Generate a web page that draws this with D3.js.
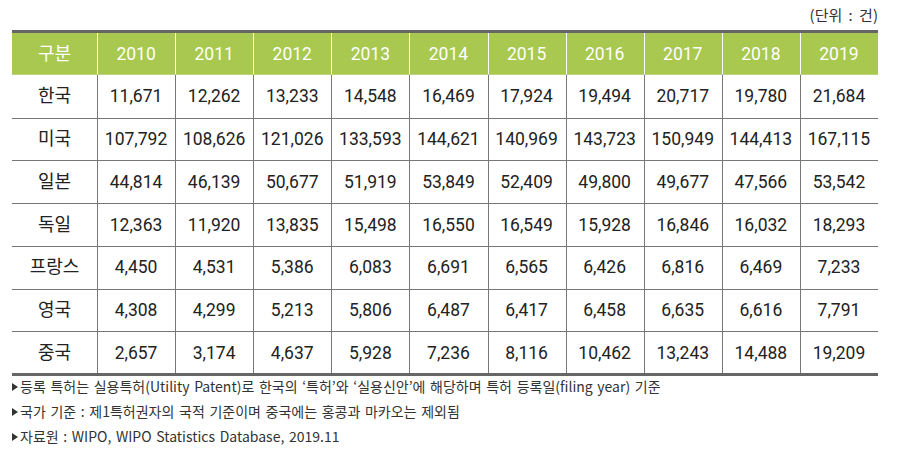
<!DOCTYPE html>
<html>
<head>
<meta charset="utf-8">
<script src="https://cdn.jsdelivr.net/npm/d3@7"></script>
<style>
  body { margin:0; background:#fff; }
  text { font-family: "Noto Sans CJK KR", "Noto Sans", sans-serif; }
  text.num { font-family: Roboto, "Liberation Sans", sans-serif; }
</style>
</head>
<body>
<div id="chart-area"></div>
<script>
// table data
var years = ["2010","2011","2012","2013","2014","2015","2016","2017","2018","2019"];
var countries = ["한국","미국","일본","독일","프랑스","영국","중국"];
var korea   = [11671,12262,13233,14548,16469,17924,19494,20717,19780,21684];
var usa     = [107792,108626,121026,133593,144621,140969,143723,150949,144413,167115];
var japan   = [44814,46139,50677,51919,53849,52409,49800,49677,47566,53542];
var germany = [12363,11920,13835,15498,16550,16549,15928,16846,16032,18293];
var france  = [4450,4531,5386,6083,6691,6565,6426,6816,6469,7233];
var uk      = [4308,4299,5213,5806,6487,6417,6458,6635,6616,7791];
var china   = [2657,3174,4637,5928,7236,8116,10462,13243,14488,19209];
var series = [korea, usa, japan, germany, france, uk, china];

var headLabel = "구분";
var unitLabel = "(단위 : 건)";
var notes = [
  "등록 특허는 실용특허(Utility Patent)로 한국의 ‘특허’와 ‘실용신안’에 해당하며 특허 등록일(filing year) 기준",
  "국가 기준 : 제1특허권자의 국적 기준이며 중국에는 홍콩과 마카오는 제외됨",
  "자료원 : WIPO, WIPO Statistics Database, 2019.11"
];

var W = 898, H = 454;
var m = { left: 12, right: 878, top: 32, bottom: 374 };
var firstColW = 85;

var svg = d3.select("#chart-area").append("svg")
  .attr("width", W).attr("height", H);

// scales
var xScale = d3.scaleBand().domain(years).range([m.left + firstColW, m.right]);
var yScale = d3.scaleBand().domain(["head"].concat(countries)).range([m.top, m.bottom]);
var fmt = d3.format(",");
var bw = yScale.bandwidth();

// header background
svg.append("rect")
  .attr("x", m.left).attr("y", yScale("head"))
  .attr("width", m.right - m.left).attr("height", bw)
  .attr("fill", "#a8c84f");

// horizontal row lines
svg.selectAll(".hline")
  .data(countries.slice(1))
  .enter().append("line")
  .attr("x1", m.left).attr("x2", m.right)
  .attr("y1", d => Math.round(yScale(d)) + 0.5).attr("y2", d => Math.round(yScale(d)) + 0.5)
  .attr("stroke", "#777").attr("stroke-width", 1);

// vertical lines: white in header, grey in body
var vx = years.map(d => Math.round(xScale(d)) + 0.5);
svg.selectAll(".vhead")
  .data(vx).enter().append("line")
  .attr("x1", d => d).attr("x2", d => d)
  .attr("y1", yScale("head")).attr("y2", yScale("head") + bw)
  .attr("stroke", "#ffffff").attr("stroke-width", 1);
svg.selectAll(".vbody")
  .data(vx).enter().append("line")
  .attr("x1", d => d).attr("x2", d => d)
  .attr("y1", yScale(countries[0])).attr("y2", m.bottom)
  .attr("stroke", "#777").attr("stroke-width", 1);

// thick top and bottom borders
svg.append("rect").attr("x", m.left).attr("y", m.top - 2)
  .attr("width", m.right - m.left).attr("height", 3).attr("fill", "#666666");
svg.append("rect").attr("x", m.left).attr("y", m.bottom - 1)
  .attr("width", m.right - m.left).attr("height", 3).attr("fill", "#666666");

// header text
svg.append("text")
  .attr("x", m.left + firstColW / 2).attr("y", yScale("head") + bw / 2)
  .attr("dy", "0.35em").attr("text-anchor", "middle")
  .attr("fill", "#fff").attr("font-size", "18px")
  .text(headLabel);
svg.selectAll(".year")
  .data(years).enter().append("text")
  .attr("class", "num")
  .attr("x", d => xScale(d) + xScale.bandwidth() / 2)
  .attr("y", yScale("head") + bw / 2)
  .attr("dy", "0.35em").attr("text-anchor", "middle")
  .attr("fill", "#fff").attr("font-size", "17.5px")
  .text(d => d);

// row labels
svg.selectAll(".country")
  .data(countries).enter().append("text")
  .attr("x", m.left + firstColW / 2)
  .attr("y", d => yScale(d) + bw / 2)
  .attr("dy", "0.35em").attr("text-anchor", "middle")
  .attr("fill", "#222").attr("font-size", "18px")
  .text(d => d);

// values
countries.forEach((c, i) => {
  svg.selectAll(".v" + i)
    .data(series[i]).enter().append("text")
    .attr("class", "num")
    .attr("x", (d, j) => xScale(years[j]) + xScale.bandwidth() / 2)
    .attr("y", yScale(c) + bw / 2)
    .attr("dy", "0.35em").attr("text-anchor", "middle")
    .attr("fill", "#222").attr("font-size", "17.5px")
    .text(d => fmt(d));
});

// unit label
svg.append("text")
  .attr("x", m.right).attr("y", 16).attr("dy", "0.35em")
  .attr("text-anchor", "end").attr("fill", "#333").attr("font-size", "15px")
  .attr("word-spacing", "3px")
  .text(unitLabel);

// notes
var notesG = svg.append("g");
notes.forEach((n, i) => {
  var y = 387 + i * 25;
  notesG.append("path")
    .attr("d", "M" + m.left + "," + (y - 4) + "L" + (m.left + 6) + "," + y + "L" + m.left + "," + (y + 4) + "Z")
    .attr("fill", "#333");
  notesG.append("text")
    .attr("x", m.left + 8).attr("y", y).attr("dy", "0.35em")
    .attr("fill", "#333").attr("font-size", "14px")
    .attr("word-spacing", "1.5px")
    .text(n);
});
</script>
</body>
</html>
